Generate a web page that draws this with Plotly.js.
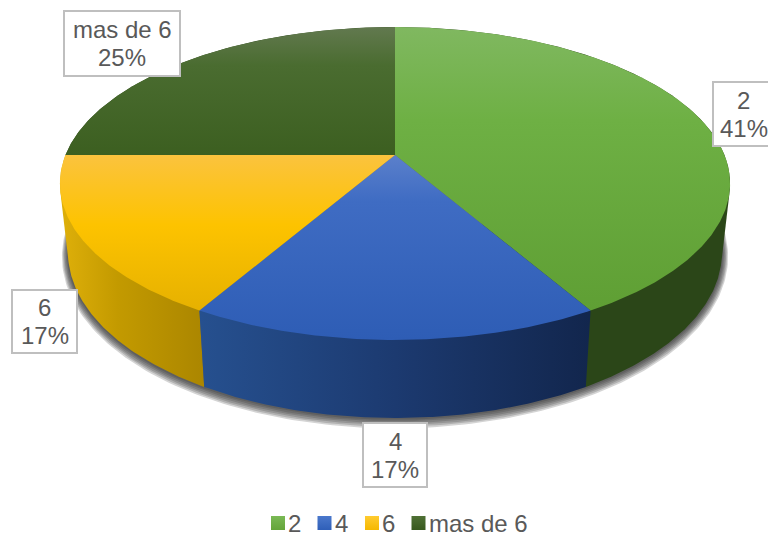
<!DOCTYPE html>
<html>
<head>
<meta charset="utf-8">
<script src="https://cdn.plot.ly/plotly-3.0.1.min.js"></script>
<style>html,body{margin:0;padding:0;background:#fff}#chart{width:768px;height:533px}</style>
</head>
<body>
<div id="chart"></div>
<script>
// Data
const categories = ['2', '4', '6', 'mas de 6'];
const counts = [5, 2, 2, 3];
const percentLabels = ['41%', '17%', '17%', '25%'];

// Styles (gradient position 0 = lower edge of the face on screen, 1 = upper edge)
const topGradients = [
  [[0, '#5f9f34'], [0.67, '#6eb044'], [1, '#80b860']],
  [[0, '#2e5db5'], [0.75, '#3f6cc3'], [1, '#5b80cb']],
  [[0, '#e6b100'], [0.55, '#fdc300'], [1, '#fbc33e']],
  [[0, '#3c5f20'], [0.7, '#4a6c30'], [1, '#62794f']]
];
const sideGradients = [
  [[0, '#2b4618'], [1, '#2b4618']],
  [[0, '#26508f'], [0.5, '#1c3a70'], [1, '#12264d']],
  [[0, '#dfb00a'], [0.4, '#c39a00'], [1, '#ab8600']],
  [[0, '#2b4618'], [1, '#2b4618']]
];
const swatchTop = ['#7ab955', '#4a78cc', '#ffcb30', '#4f7035'];
const swatchBottom = ['#64a53a', '#2f5fb8', '#f5b800', '#38591e'];
const textColor = '#595959';
const fontFamily = '"Liberation Sans", Arial, sans-serif';

// Perspective projection of a unit disc on the pixel-scaled axes
const topRim = {cx: 395, y0: 155, a: 329.5, b: 151.3, c: 0.182};
const bottomRim = {cx: 395, y0: 222.4, a: 321.5, b: 160, c: 0.182};
function project(rim, deg, grow, dy) {
  const t = deg * Math.PI / 180, u = Math.sin(t), v = Math.cos(t), k = rim.c * v + 1;
  return [rim.cx + (rim.a + (grow || 0)) * u / k, rim.y0 + (dy || 0) - (rim.b + (grow || 0)) * v / k];
}
function arc(rim, from, to) {
  const pts = [], n = Math.max(2, Math.ceil(Math.abs(to - from) * 2));
  for (let i = 0; i <= n; i++) pts.push(project(rim, from + (to - from) * i / n));
  return pts;
}
function hull(points) {
  const p = points.slice().sort((m, n) => m[0] - n[0] || m[1] - n[1]);
  const cross = (o, m, n) => (m[0] - o[0]) * (n[1] - o[1]) - (m[1] - o[1]) * (n[0] - o[0]);
  const lo = [], up = [];
  for (const q of p) { while (lo.length > 1 && cross(lo[lo.length - 2], lo[lo.length - 1], q) <= 0) lo.pop(); lo.push(q); }
  for (const q of p.slice().reverse()) { while (up.length > 1 && cross(up[up.length - 2], up[up.length - 1], q) <= 0) up.pop(); up.push(q); }
  return lo.slice(0, -1).concat(up.slice(0, -1));
}
function closed(pts) {
  const c = pts.concat([pts[0]]);
  return {x: c.map(q => q[0]), y: c.map(q => q[1])};
}

const total = counts.reduce((s, v) => s + v, 0);
const spans = [];
counts.reduce((acc, v) => { const end = acc + v / total * 360; spans.push([acc, end]); return end; }, 0);

const traces = [];

// soft drop shadow under the disc
[6, 5, 4, 3, 2, 1].forEach(g => {
  const pts = [];
  for (let d = 0; d < 360; d += 1) pts.push(project(bottomRim, d, g, g * 0.5));
  const c = closed(pts);
  traces.push({type: 'scatter', mode: 'lines', x: c.x, y: c.y, fill: 'toself', fillcolor: 'rgba(40,40,40,0.2)',
    line: {width: 0}, hoverinfo: 'skip', showlegend: false});
});

// rim walls
const sideOrder = [3, 0, 2, 1];
sideOrder.forEach(i => {
  const [from, to] = spans[i];
  const c = closed(hull(arc(topRim, from, to).concat(arc(bottomRim, from, to))));
  traces.push({type: 'scatter', mode: 'lines', x: c.x, y: c.y, fill: 'toself',
    fillgradient: {type: 'horizontal', colorscale: sideGradients[i]},
    line: {width: 0}, hoverinfo: 'skip', showlegend: false});
});

// top faces
categories.forEach((name, i) => {
  const [from, to] = spans[i];
  const c = closed([[topRim.cx, topRim.y0]].concat(arc(topRim, from, to)));
  traces.push({type: 'scatter', mode: 'lines', x: c.x, y: c.y, fill: 'toself', name,
    fillgradient: {type: 'vertical', colorscale: topGradients[i]},
    line: {width: 0}, text: name + ': ' + percentLabels[i], hoverinfo: 'text', showlegend: false});
});

// legend row
const legendX = [278, 324.5, 372, 418.5];
categories.forEach((name, i) => {
  traces.push({type: 'scatter', mode: 'markers', x: [legendX[i]], y: [523], hoverinfo: 'skip', showlegend: false,
    marker: {symbol: 'square', size: 14, color: swatchTop[i], line: {width: 0},
      gradient: {type: 'vertical', color: swatchBottom[i]}}});
});
const legendTextX = [294.7, 341.7, 388.7, 478.5];
const annotations = categories.map((name, i) => ({
  xref: 'x', yref: 'y', x: legendTextX[i], y: 523, text: name, showarrow: false, xanchor: 'center', yanchor: 'middle',
  font: {family: fontFamily, size: 24, color: textColor}
}));

// data label boxes
const boxLeft = [713, 363, 12, 64];
const boxRight = [776, 427, 77, 180];
const boxTop = [82, 423, 290, 11];
const boxBottom = [146, 487, 353, 76];
const labelCenterX = [743.5, 395, 44.5, 122];
const shapes = categories.map((name, i) => ({
  type: 'rect', xref: 'x', yref: 'y', layer: 'above', x0: boxLeft[i], x1: boxRight[i], y0: boxTop[i], y1: boxBottom[i],
  fillcolor: '#ffffff', line: {color: '#bfbfbf', width: 2}
}));
categories.forEach((name, i) => {
  const mid = (boxTop[i] + boxBottom[i]) / 2;
  [[name, mid - 14], [percentLabels[i], mid + 14]].forEach(([text, y]) => {
    annotations.push({xref: 'x', yref: 'y', x: labelCenterX[i], y, text, showarrow: false, xanchor: 'center', yanchor: 'middle',
      font: {family: fontFamily, size: 24, color: textColor}});
  });
});

Plotly.newPlot('chart', traces, {
  width: 768, height: 533,
  margin: {l: 0, r: 0, t: 0, b: 0},
  paper_bgcolor: '#ffffff', plot_bgcolor: '#ffffff',
  xaxis: {range: [0, 768], visible: false, fixedrange: true},
  yaxis: {range: [533, 0], visible: false, fixedrange: true},
  showlegend: false, shapes, annotations
}, {displayModeBar: false, staticPlot: true});
</script>
</body>
</html>
